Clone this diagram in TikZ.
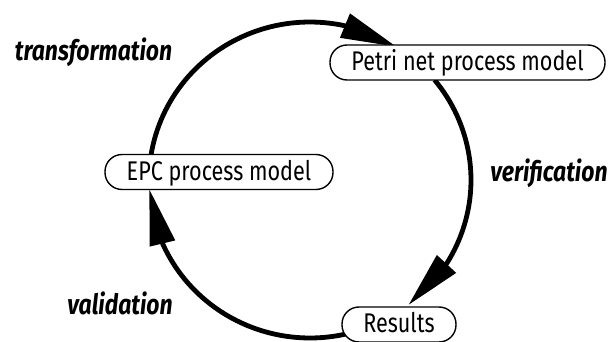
\documentclass[tikz,border=0pt]{standalone}
\usepackage{fontspec}
\setmainfont{Fira Sans}[FakeStretch=0.8]
\newfontfamily\lblfont{Fira Sans}[FakeStretch=0.82]
\usetikzlibrary{arrows.meta,bending}
\begin{document}
\begin{tikzpicture}[x=1pt,y=-1pt,
  box/.style={draw=black, line width=1.4pt, fill=white, rounded corners=17pt,
    minimum height=35pt, inner sep=0pt, text height=21pt, text depth=4pt,
    font=\fontsize{27}{30}\selectfont},
  lbl/.style={anchor=base, inner sep=0pt, font=\lblfont\fontsize{28}{30}\selectfont\bfseries\itshape},
  cyc/.style={line width=4.8pt, -{Triangle[length=56pt,width=25pt]}}]
\useasboundingbox (0,0) rectangle (614,342);
% points on the cycle (ellipse centre (310,180), radii 161 x 158)
\coordinate (s1) at ([shift={(189.1:161 and 158)}]310,180);
\coordinate (s2) at ([shift={(-39.3:161 and 158)}]310,180);
\coordinate (s3) at ([shift={(76:161 and 158)}]310,180);
% connectors
\draw[cyc] (s1) arc[start angle=189.1, end angle=302.6, x radius=161, y radius=158];
\draw[cyc] (s2) arc[start angle=-39.3, end angle=52.3, x radius=161, y radius=158];
\draw[cyc] (s3) arc[start angle=76, end angle=176.7, x radius=161, y radius=158];
% nodes
\node[box, minimum width=275pt] (petri) at (467.5,62.5) {Petri net process model};
\node[box, minimum width=228pt] (epc) at (219,172) {EPC process model};
\node[box, minimum width=114pt] (res) at (399,324.5) {Results};
% labels
\node[lbl] (ltrans) at (93.5,61) {transformation};
\node[lbl] (lver) at (549,182) {verification};
\node[lbl] (lval) at (120,315) {validation};
\end{tikzpicture}
\end{document}
